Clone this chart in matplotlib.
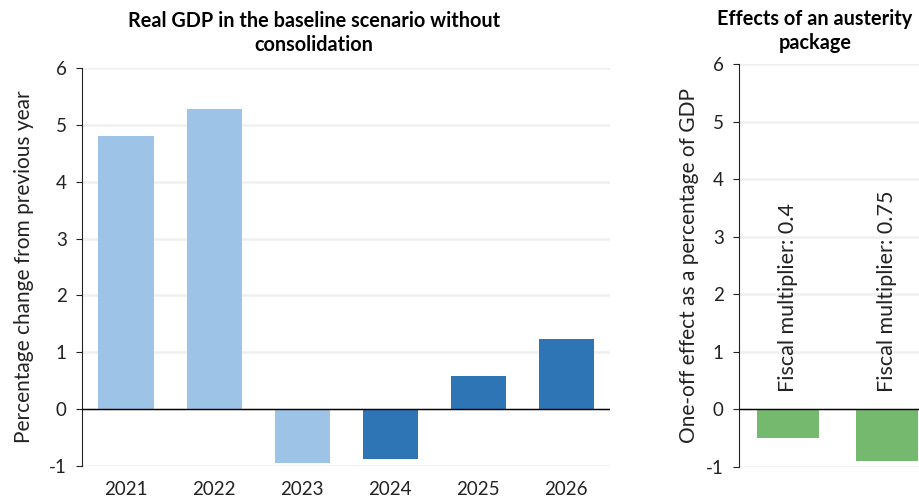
import matplotlib.pyplot as plt
import numpy as np

plt.rcParams['font.family'] = ['Lato', 'DejaVu Sans']

years = ['2021', '2022', '2023', '2024', '2025', '2026']
growth = [4.81, 5.28, -0.95, -0.87, 0.58, 1.23]
bar_colors = ['#9dc3e6', '#9dc3e6', '#9dc3e6', '#2e75b6', '#2e75b6', '#2e75b6']

multipliers = ['Fiscal multiplier: 0.4', 'Fiscal multiplier: 0.75']
effects = [-0.5, -0.9]

fig = plt.figure(figsize=(9.2, 4.97), dpi=100)
W, H = 920, 497


def px_axes(x0, y0, x1, y1):
    return fig.add_axes([x0 / W, 1 - y1 / H, (x1 - x0) / W, (y1 - y0) / H])


def style(ax):
    ax.set_ylim(-1, 6)
    ax.set_yticks(range(-1, 7))
    ax.set_yticklabels(['-1', '0', '1', '2', '3', '4', '5', '6'])
    ax.grid(axis='y', color='#f0f0f0', linewidth=1.8)
    ax.set_axisbelow(True)
    for s in ['top', 'right', 'bottom']:
        ax.spines[s].set_visible(False)
    ax.spines['left'].set_color('#222222')
    ax.tick_params(axis='y', length=4, color='#222222', labelsize=13.5, pad=7, labelcolor='#222222')
    ax.tick_params(axis='x', length=0, labelsize=13.5, pad=11, labelcolor='#222222')
    ax.axhline(0, color='black', linewidth=1.0, zorder=3)


# left panel
ax1 = px_axes(82, 68, 610, 466)
x = np.arange(len(years))
ax1.bar(x, growth, width=0.625, color=bar_colors, zorder=2)
ax1.set_xlim(-0.5, len(years) - 0.5)
ax1.set_xticks(x)
ax1.set_xticklabels(years)
style(ax1)
ax1.set_ylabel('Percentage change from previous year', fontsize=15, color='#222222', labelpad=11)
fig.text(314 / W, 1 - 33 / H, 'Real GDP in the baseline scenario without\nconsolidation',
         ha='center', va='center', fontsize=14.3, fontweight='bold', linespacing=1.2)

# right panel (cut off at the figure edge)
ax2 = px_axes(739, 64, 936, 467)
x2 = np.arange(len(multipliers))
ax2.bar(x2, effects, width=0.63, color='#74b96e', zorder=2)
ax2.set_xlim(-0.5, len(multipliers) - 0.5)
ax2.set_xticks([])
style(ax2)
for xi, lab in zip(x2, multipliers):
    ax2.text(xi, 0.3, lab, rotation=90, ha='center', va='bottom', fontsize=15.5, color='#222222')
ax2.set_ylabel('One-off effect as a percentage of GDP', fontsize=15, color='#222222', labelpad=5)
fig.text(815 / W, 1 - 31 / H, 'Effects of an austerity\npackage',
         ha='center', va='center', fontsize=14.3, fontweight='bold', linespacing=1.2)

fig.savefig('out.png', dpi=100)
